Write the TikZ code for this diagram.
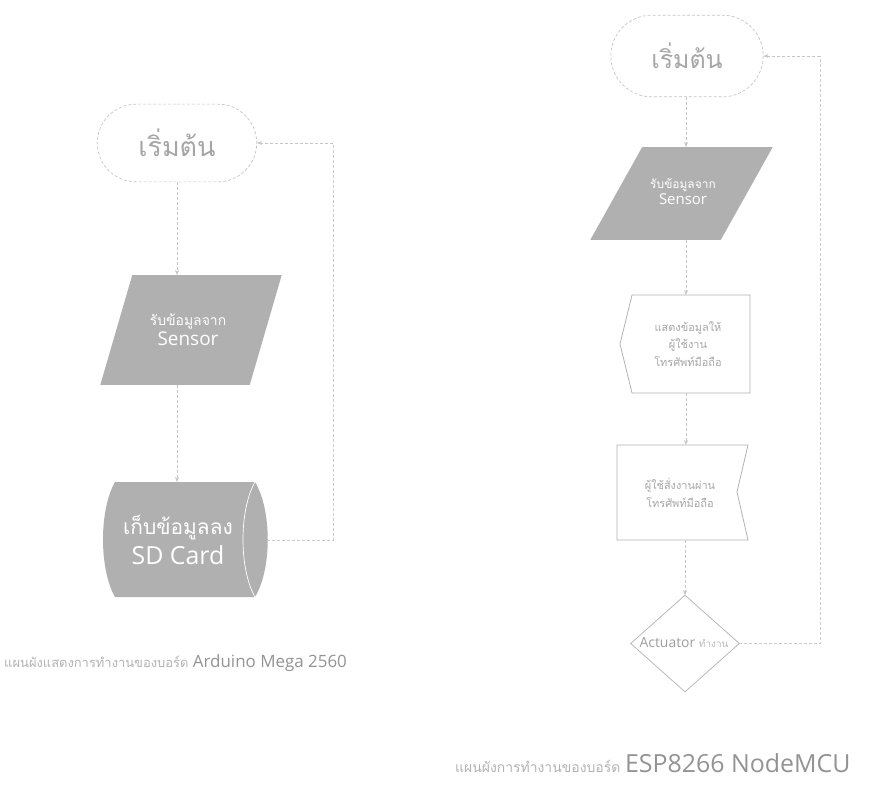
\documentclass[tikz,border=0pt]{standalone}
\usepackage{fontspec}
\setmainfont{Open Sans}
\newfontfamily\thfont[Script=Thai]{Loma}
\usetikzlibrary{shapes.misc,arrows.meta}

\newcommand{\fs}[1]{\fontsize{#1}{#1}\selectfont}

\tikzset{
  grayfill/.style={fill=gray!62},
  whitebox/.style={fill=white, draw=gray!60, line width=0.8pt},
  anchorbox/.style={inner sep=0pt, outer sep=0pt},
  flowline/.style={draw=gray!45, line width=0.6pt, densely dashed,
    -{Stealth[length=5pt,width=4pt]}},
  loopline/.style={draw=gray!40, line width=0.6pt, densely dashed},
  terminal/.style={rounded rectangle, draw=gray!45, line width=0.7pt,
    densely dashed, fill=white, inner sep=0pt},
  lighttext/.style={text=white, align=center},
  darktext/.style={text=gray!70, align=center},
}

\begin{document}
\begin{tikzpicture}[x=1bp, y=-1bp]
\useasboundingbox (0,0) rectangle (879,785);

% ---------------- Arduino Mega 2560 ----------------
\node[terminal, minimum width=160, minimum height=78] (s1) at (177,143) {};
\node[darktext, font=\thfont\fs{27}] at (s1) {เริ่มต้น};

% input parallelogram
\node[anchorbox, minimum width=182, minimum height=110] (p1) at (191,330) {};
\fill[grayfill] ([xshift=32]p1.north west) -- (p1.north east)
  -- ([xshift=-32]p1.south east) -- (p1.south west) -- cycle;
\node[lighttext, font=\thfont\fs{14}] at (188,330) {รับข้อมูลจาก\\[2pt]\fontspec{Open Sans}\fs{19}Sensor};

% stored data (SD card)
\node[anchorbox, minimum width=165, minimum height=115] (c1) at (185.5,539.5) {};
\fill[grayfill] (115,482) .. controls (99,510) and (99,569) .. (115,597)
  -- (255,597) .. controls (272,569) and (272,510) .. (255,482) -- cycle;
\draw[white, line width=0.7pt] (255,482) .. controls (239,510) and (239,569) .. (255,597);
\node[lighttext, font=\thfont\fs{21}] at (178,540) {เก็บข้อมูลลง\\[5pt]\fontspec{Open Sans}\fs{25}SD Card};

\draw[flowline] (s1.south -| 177,0) -- (177,275);
\draw[flowline] (177,385) -- (177,482);
\coordinate (l1) at (333,540);
\coordinate (l2) at (333,143);
\draw[loopline] (267,540) -- (l1) -- (l2);
\draw[flowline] (l2) -- (s1.east);

\node[anchor=base west, inner sep=0pt] (cap1) at (4,667)
  {\thfont\fs{13}\color{gray!60}แผนผังแสดงการทำงานของบอร์ด\ \fontspec{Open Sans}\fs{17}\color{gray!85}Arduino Mega 2560};

% ---------------- ESP8266 NodeMCU ----------------
\node[terminal, minimum width=153, minimum height=82] (s2) at (687,56) {};
\node[darktext, font=\thfont\fs{25}] at (s2) {เริ่มต้น};

\node[anchorbox, minimum width=183, minimum height=93] (p2) at (681.5,193.5) {};
\fill[grayfill] ([xshift=52]p2.north west) -- (p2.north east)
  -- ([xshift=-52]p2.south east) -- (p2.south west) -- cycle;
\node[lighttext, font=\thfont\fs{12}] at (683,192) {รับข้อมูลจาก\\[1pt]\fontspec{Open Sans}\fs{15}Sensor};

% display symbol
\node[anchorbox, minimum width=130, minimum height=98] (d3) at (685,344) {};
\draw[whitebox] (632,295) -- (750,295) -- (750,393) -- (632,393) -- (620,344) -- cycle;
\node[darktext, font=\thfont\fs{11}] at (688,344) {แสดงข้อมูลให้\\[4pt]ผู้ใช้งาน\\[4pt]โทรศัพท์มือถือ};

% notched box
\node[anchorbox, minimum width=131, minimum height=95] (m4) at (682.5,492.5) {};
\draw[whitebox] (617,445) -- (748,445) -- (737,492) -- (748,540) -- (617,540) -- cycle;
\node[darktext, font=\thfont\fs{11}] at (680,493) {ผู้ใช้สั่งงานผ่าน\\[5pt]โทรศัพท์มือถือ};

% decision
\node[anchorbox, minimum width=109, minimum height=97] (q5) at (685,643.5) {};
\draw[whitebox, draw=gray!55] (q5.north) -- (q5.east) -- (q5.south) -- (q5.west) -- cycle;
\node[text=gray!75, inner sep=0pt] at (684,643) {\fs{14}Actuator \thfont\fs{10}\color{gray!55}ทำงาน};

\draw[flowline] (s2.south -| 686,0) -- (686,147);
\draw[flowline] (686,240) -- (686,295);
\draw[flowline] (686,393) -- (686,445);
\draw[flowline] (q5.north |- 0,540) -- (q5.north);
\coordinate (r1) at (820,643.5);
\coordinate (r2) at (820,56);
\draw[loopline] (q5.east) -- (r1) -- (r2);
\draw[flowline] (r2) -- (s2.east);

\node[anchor=base west, inner sep=0pt] (cap2) at (455,772)
  {\thfont\fs{14}\color{gray!60}แผนผังการทำงานของบอร์ด\ \fontspec{Open Sans}\fs{25}\color{gray!85}ESP8266 NodeMCU};

\end{tikzpicture}
\end{document}
